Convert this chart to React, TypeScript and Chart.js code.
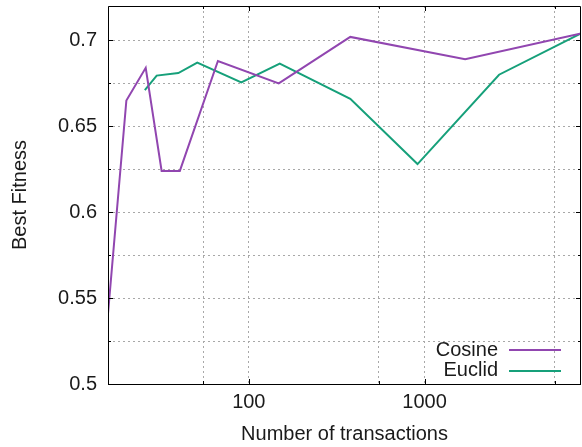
import React, { useEffect, useRef } from "react";
import { Chart, registerables } from "chart.js";

Chart.register(...registerables);

const seriesNames = ["Cosine", "Euclid"];
const cosineX = [15.8, 20.1, 25.9, 31.9, 40.5, 66.7, 148, 378, 1703, 7770];
const cosineY = [0.541, 0.665, 0.684, 0.624, 0.624, 0.688, 0.675, 0.702, 0.689, 0.704];
const euclidX = [25.6, 29.9, 39.7, 50.9, 90.6, 150, 378, 912, 2655, 7770];
const euclidY = [0.671, 0.6795, 0.681, 0.687, 0.6755, 0.6865, 0.666, 0.628, 0.68, 0.704];
const xGridValues = [55, 100, 550, 1000, 5500];
const xTickLabels = [100, 1000];
const yTickLabels = [0.5, 0.55, 0.6, 0.65, 0.7];
const xMin = 15.8;
const xMax = 7770;
const yMin = 0.5;
const yMax = 0.72;
const yStep = 0.025;

const colors = ["#9146b0", "#16a07a"];
const FONT = "'Liberation Sans', Arial, sans-serif";

const framePlugin = {
  id: "frame",
  afterDatasetsDraw(chart: any) {
    const { ctx, chartArea } = chart;
    const { left, right, top, bottom } = chartArea;
    ctx.save();
    ctx.strokeStyle = "#000";
    ctx.lineWidth = 1;
    ctx.beginPath();
    ctx.rect(Math.round(left) + 0.5, Math.round(top) + 0.5, Math.round(right - left) - 1, Math.round(bottom - top));
    ctx.stroke();
    const xs = chart.scales.x;
    const ys = chart.scales.y;
    ctx.beginPath();
    xGridValues.forEach((v) => {
      const px = Math.round(xs.getPixelForValue(v)) + 0.5;
      const len = xTickLabels.includes(v) ? 5 : 3;
      ctx.moveTo(px, bottom);
      ctx.lineTo(px, bottom - len);
      ctx.moveTo(px, top);
      ctx.lineTo(px, top + len);
    });
    for (let v = yMin; v <= yMax + 1e-9; v += yStep) {
      const py = Math.round(ys.getPixelForValue(v)) + 0.5;
      const major = yTickLabels.some((t) => Math.abs(t - v) < 1e-6);
      const len = major ? 5 : 3;
      ctx.moveTo(left, py);
      ctx.lineTo(left + len, py);
      ctx.moveTo(right, py);
      ctx.lineTo(right - len, py);
    }
    ctx.stroke();
    ctx.font = `20px ${FONT}`;
    ctx.textAlign = "right";
    ctx.textBaseline = "middle";
    chart.data.datasets.forEach((ds: any, i: number) => {
      const y = bottom - 34 + i * 20.7;
      ctx.fillStyle = "#1a1a1a";
      ctx.fillText(ds.label, right - 83, y);
      ctx.strokeStyle = ds.borderColor;
      ctx.lineWidth = 2;
      ctx.beginPath();
      ctx.moveTo(right - 72, Math.round(y));
      ctx.lineTo(right - 20, Math.round(y));
      ctx.stroke();
    });
    ctx.restore();
  },
};

export default function App() {
  const ref = useRef<HTMLCanvasElement | null>(null);
  useEffect(() => {
    if (!ref.current) return;
    Chart.defaults.font.family = FONT;
    const chart = new Chart(ref.current, {
      type: "scatter",
      data: {
        datasets: [
          {
            label: seriesNames[0],
            data: cosineX.map((x, i) => ({ x, y: cosineY[i] })),
            borderColor: colors[0],
            backgroundColor: colors[0],
            showLine: true,
            borderWidth: 2,
            pointRadius: 0,
            tension: 0,
          },
          {
            label: seriesNames[1],
            data: euclidX.map((x, i) => ({ x, y: euclidY[i] })),
            borderColor: colors[1],
            backgroundColor: colors[1],
            showLine: true,
            borderWidth: 2,
            pointRadius: 0,
            tension: 0,
          },
        ],
      },
      options: {
        animation: false,
        responsive: false,
        devicePixelRatio: 1,
        layout: { padding: { left: 0, right: 1, top: 6, bottom: 0 } },
        plugins: { legend: { display: false }, tooltip: { enabled: false } },
        scales: {
          x: {
            type: "logarithmic",
            min: xMin,
            max: xMax,
            afterBuildTicks: (scale: any) => {
              scale.ticks = xGridValues.map((v) => ({ value: v, major: xTickLabels.includes(v) }));
            },
            afterFit: (scale: any) => {
              scale.height = 63;
              scale.paddingLeft = 0;
              scale.paddingRight = 0;
              scale.paddingTop = 0;
              scale.paddingBottom = 0;
            },
            ticks: {
              autoSkip: false,
              maxRotation: 0,
              padding: 6,
              color: "#1a1a1a",
              font: { size: 20, family: FONT },
              callback: (v: any) => (xTickLabels.includes(Number(v)) ? String(v) : ""),
            },
            grid: { color: "#a8a8a8", lineWidth: 1, drawTicks: false },
            border: { display: false, dash: [2, 3] },
            title: {
              display: true,
              text: "Number of transactions",
              color: "#1a1a1a",
              font: { size: 20, family: FONT },
              padding: { top: 0, bottom: 1 },
            },
          },
          y: {
            type: "linear",
            min: yMin,
            max: yMax,
            afterFit: (scale: any) => {
              scale.width = 108;
              scale.paddingLeft = 0;
              scale.paddingRight = 0;
              scale.paddingTop = 0;
              scale.paddingBottom = 0;
            },
            ticks: {
              stepSize: yStep,
              padding: 11,
              color: "#1a1a1a",
              font: { size: 20, family: FONT },
              callback: (v: any) => {
                const n = Number(v);
                const hit = yTickLabels.find((t) => Math.abs(t - n) < 1e-6);
                return hit !== undefined ? String(hit) : "";
              },
            },
            grid: { color: "#a8a8a8", lineWidth: 1, drawTicks: false },
            border: { display: false, dash: [2, 3] },
            title: {
              display: true,
              text: "Best Fitness",
              color: "#1a1a1a",
              font: { size: 20, family: FONT },
              padding: { top: 8, bottom: 0 },
            },
          },
        },
      },
      plugins: [framePlugin],
    });
    return () => chart.destroy();
  }, []);
  return (
    <div style={{ position: "fixed", left: 0, top: 0, width: 582, height: 447, background: "#fff" }}>
      <canvas ref={ref} width={582} height={447} />
    </div>
  );
}
